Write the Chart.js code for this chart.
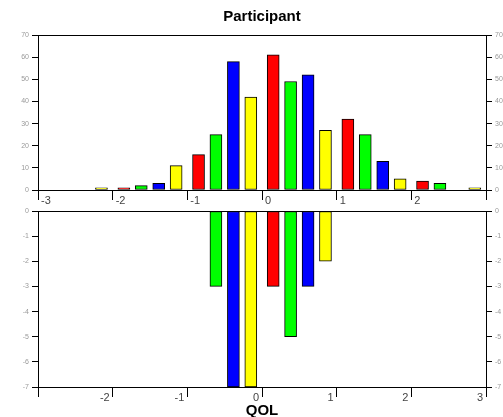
<!DOCTYPE html>
<html>
<head>
<meta charset="utf-8">
<script src="https://cdn.jsdelivr.net/npm/chart.js@4.4.0/dist/chart.umd.min.js"></script>
<style>
  html, body { margin: 0; padding: 0; background: #fff; overflow: hidden; width: 503px; height: 417px; }
  canvas { position: absolute; left: 0; }
  #topChart { top: 0; }
  #bottomChart { top: 200px; }
</style>
</head>
<body>
<canvas id="topChart" width="503" height="210"></canvas>
<canvas id="bottomChart" width="503" height="218"></canvas>
<script>
// QOL bins (left edge of each unit interval)
var bins = [-3, -2, -1, 0, 1, 2];

// Participant counts above the axis
var redTop    = [0, 1, 16, 61, 32, 4];
var greenTop  = [0, 2, 25, 49, 25, 3];
var blueTop   = [0, 3, 58, 52, 13, 0];
var yellowTop = [1, 11, 42, 27, 5, 1];

// values below the axis
var redBottom    = [0, 0, 0, -3, 0, 0];
var greenBottom  = [0, 0, -3, -5, 0, 0];
var blueBottom   = [0, 0, -7, -3, 0, 0];
var yellowBottom = [0, 0, -7, -2, 0, 0];

var colors = ['#ff0000', '#00ff00', '#0000ff', '#ffff00'];
// where each coloured bar sits inside its bin
var offsets = [0.15, 0.383, 0.617, 0.85];

var fontFamily = '"Liberation Sans", Arial, sans-serif';

function points(values, k) {
    return bins.map(function(b, i) { return { x: b + offsets[k], y: values[i] }; });
}

function makeDatasets(series) {
    return series.map(function(values, k) {
        return {
            data: points(values, k),
            backgroundColor: colors[k],
            borderColor: '#000',
            borderWidth: 1,
            borderSkipped: false,
            barThickness: 12,
            grouped: false
        };
    });
}

function yAxis(pos, min, max, step, edgeValue) {
    return {
        type: 'linear',
        position: pos,
        min: min,
        max: max,
        ticks: {
            stepSize: step,
            color: '#999',
            padding: 3,
            font: { family: fontFamily, size: 7 }
        },
        grid: {
            drawOnChartArea: pos === 'left',
            color: function(c) { return c.tick && c.tick.value === edgeValue ? '#000' : 'rgba(0,0,0,0)'; },
            tickColor: '#000',
            tickLength: 6
        },
        border: { display: true, color: '#000', width: 1 },
        afterFit: function(s) { s.width = pos === 'left' ? 38 : 17; }
    };
}

function xAxis(hideValue, align, offset, pad, height, title) {
    return {
        type: 'linear',
        position: 'bottom',
        min: -3,
        max: 3,
        offset: false,
        ticks: {
            stepSize: 1,
            align: align,
            labelOffset: offset,
            padding: pad,
            maxRotation: 0,
            color: '#444',
            font: { family: fontFamily, size: 11 },
            callback: function(v) { return v === hideValue ? '' : v; }
        },
        grid: { drawOnChartArea: false, offset: false, tickColor: '#000', tickLength: 10 },
        border: { display: true, color: '#000', width: 1 },
        title: title,
        afterFit: function(s) { s.height = height; }
    };
}

var ctx = document.getElementById('topChart').getContext('2d');
var chart = new Chart(ctx, {
    type: 'bar',
    data: { datasets: makeDatasets([redTop, greenTop, blueTop, yellowTop]) },
    options: {
        responsive: false,
        animation: false,
        events: [],
        layout: { padding: 0 },
        plugins: {
            legend: { display: false },
            tooltip: { enabled: false },
            title: {
                display: true,
                fullSize: false,
                text: 'Participant',
                color: '#000',
                font: { family: fontFamily, size: 15, weight: 'bold', lineHeight: 1.2 },
                padding: { top: 8, bottom: 9 }
            }
        },
        scales: {
            x: xAxis(3, 'start', 3, -6, 20, { display: false }),
            y: yAxis('left', 0, 70, 10, 70),
            y2: yAxis('right', 0, 70, 10, 70)
        }
    }
});

var ctx2 = document.getElementById('bottomChart').getContext('2d');
var chart2 = new Chart(ctx2, {
    type: 'bar',
    data: { datasets: makeDatasets([redBottom, greenBottom, blueBottom, yellowBottom]) },
    options: {
        responsive: false,
        animation: false,
        events: [],
        layout: { padding: { top: 11 } },
        plugins: {
            legend: { display: false },
            tooltip: { enabled: false }
        },
        scales: {
            x: xAxis(-3, 'end', -3, -6, 31, {
                display: true,
                text: 'QOL',
                color: '#000',
                font: { family: fontFamily, size: 15, weight: 'bold', lineHeight: 1 },
                padding: { top: 0, bottom: 0 }
            }),
            y: yAxis('left', -7, 0, 1, 0),
            y2: yAxis('right', -7, 0, 1, 0)
        }
    }
});
</script>
</body>
</html>
